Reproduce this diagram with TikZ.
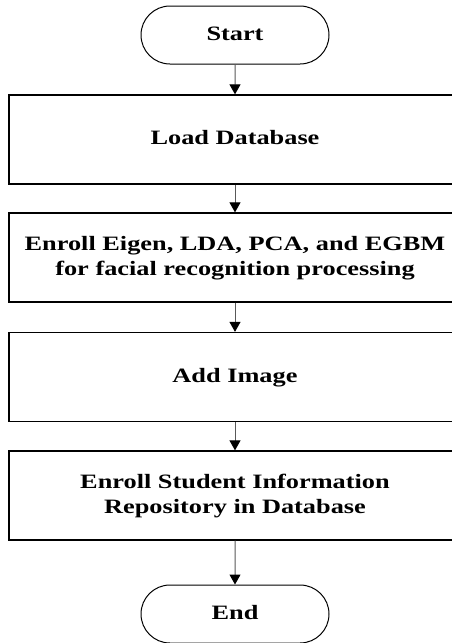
\documentclass[tikz,border=0pt]{standalone}
\usepackage{fontspec}
\setmainfont{Liberation Serif}
\usetikzlibrary{shapes.misc,arrows.meta}

% wide bold label, stretched horizontally
\newcommand{\flowlabel}[1]{\scalebox{1.29}[1]{\begin{tabular}{@{}c@{}}#1\end{tabular}}}

\tikzset{
  terminal/.style={rounded rectangle, draw=black, line width=1pt,
    minimum width=188pt, minimum height=58pt, inner sep=0pt,
    font=\fontsize{20.4}{25}\selectfont\bfseries},
  process/.style={rectangle, draw=black, line width=1.3pt,
    minimum width=452pt, minimum height=89pt, inner sep=0pt,
    font=\fontsize{20.4}{25}\selectfont\bfseries},
  flow/.style={draw=black!65, line width=1pt,
    -{Triangle[width=11pt,length=10pt,color=black]}}
}

\begin{document}
\begin{tikzpicture}[x=1pt,y=1pt]
  \clip (0,0) rectangle (452,-643);
  \fill[white] (0,0) rectangle (452,-643);

  \node[terminal] (start) at (235,-35)    {\flowlabel{Start}};
  \node[process]  (load)  at (235,-139.5) {\flowlabel{Load Database}};
  \node[process]  (enroll) at (235,-257.5)
    {\flowlabel{Enroll Eigen, LDA, PCA, and EGBM\\for facial recognition processing}};
  \node[process]  (add)   at (235,-377)   {\flowlabel{Add Image}};
  \node[process]  (repo)  at (235,-495.5)
    {\flowlabel{Enroll Student Information\\Repository in Database}};
  \node[terminal] (end)   at (235,-614)   {\flowlabel{End}};

  \draw[flow] (start) -- (load);
  \draw[flow] (load) -- (enroll);
  \draw[flow] (enroll) -- (add);
  \draw[flow] (add) -- (repo);
  \draw[flow] (repo) -- (end);
\end{tikzpicture}
\end{document}
